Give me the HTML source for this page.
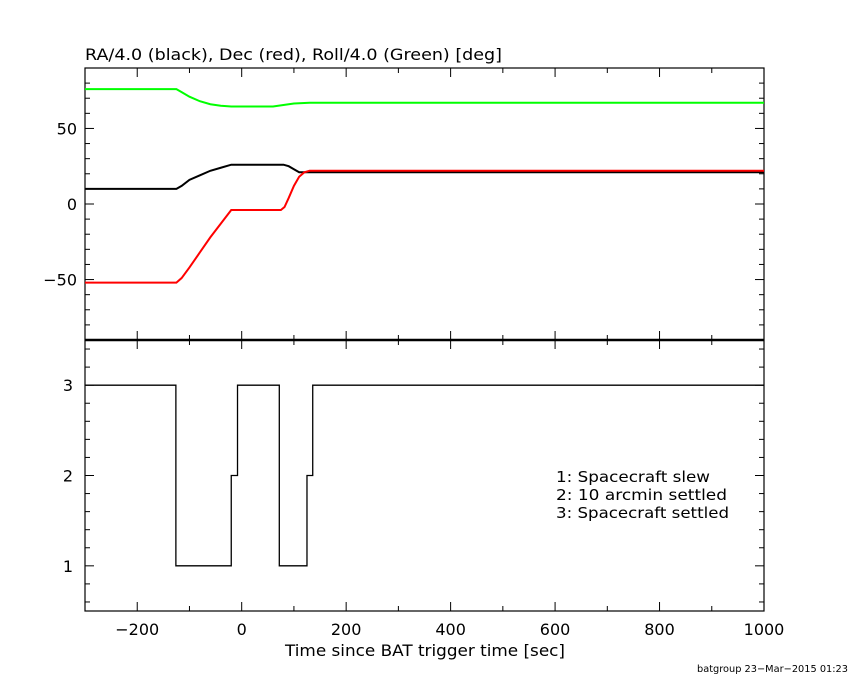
<!DOCTYPE html>
<html><head><meta charset="utf-8"><style>
body{margin:0;background:#fff;}
svg{display:block;font-family:"DejaVu Sans","Liberation Sans",sans-serif;}
</style></head><body>
<svg id="c" width="850" height="680" xmlns="http://www.w3.org/2000/svg"></svg>
<script>
const xTicks=[-200,0,200,400,600,800,1000];
const yTopTicks=[-50,0,50];
const yBotTicks=[1,2,3];
const raT=[-300,-125,-115,-100,-80,-60,-40,-20,80,90,100,110,130,1000];
const raV=[10,10,12,16,19,22,24,26,26,25,23,21,21,21];
const decT=[-300,-125,-115,-100,-80,-60,-40,-20,75,82,90,100,110,120,130,1000];
const decV=[-52,-52,-49,-42,-32,-22,-13,-4,-4,-2,4,12,18,21,22,22];
const rollT=[-300,-125,-115,-100,-80,-60,-40,-20,60,80,100,130,1000];
const rollV=[76,76,74,71,68,66,65,64.5,64.5,65.5,66.5,67,67];
const stateT=[-300,-126,-20,-8,72,125,136,1000];
const stateV=[3,1,2,3,1,2,3,3];
const legendLines=["1: Spacecraft slew","2: 10 arcmin settled","3: Spacecraft settled"];
const legendLens=[154,171,173];

const L=85,R=764,T1=68,B1=340,T2=340,B2=611;
const X=t=>L+(t+300)*(R-L)/1300;
const Y1=v=>T1+(90-v)*(B1-T1)/180;
const Y2=v=>T2+(3.5-v)*(B2-T2)/3;
const svg=document.getElementById('c');
const NS='http://www.w3.org/2000/svg';
function mk(tag,at,name,parent){const e=document.createElementNS(NS,tag);for(const k in at)e.setAttribute(k,at[k]);


(parent||svg).appendChild(e);return e;}
function txt(x,y,s,name,anchor,size,len){const at={x:x,y:y,'font-size':size||15,'text-anchor':anchor||'start',fill:'#000'};if(len){at.textLength=len;at.lengthAdjust='spacingAndGlyphs';}const e=mk('text',at,name);e.textContent=s;return e;}

mk('rect',{x:L,y:T1,width:R-L,height:B2-T1,fill:'none',stroke:'#000','stroke-width':1.2},'plot-frame');
mk('line',{x1:L,x2:R,y1:T2,y2:T2,stroke:'#000','stroke-width':2.5},'panel-divider');
for(let t=-300;t<=1000;t+=100){
 const maj=(t%200===0);const len=maj?9:5;const x=X(t);
 [[T1,1],[B1,-1],[T2,1],[B2,-1]].forEach(([y,d])=>{mk('line',{x1:x,x2:x,y1:y,y2:y+d*len,stroke:'#000'},'x-tick');});
}
xTicks.forEach(t=>txt(X(t),635,(t<0?'\u2212'+(-t):String(t)),'x-tick-label','middle',16));
for(let v=-80;v<=80;v+=10){const maj=(v%50===0);const len=maj?9:5;const y=Y1(v);
 mk('line',{x1:L,x2:L+len,y1:y,y2:y,stroke:'#000'},'y-top-tick');mk('line',{x1:R,x2:R-len,y1:y,y2:y,stroke:'#000'},'y-top-tick');}
yTopTicks.forEach(v=>txt(L-8,Y1(v)+6,(v<0?'\u2212'+(-v):String(v)),'y-top-tick-label','end',16));
for(let i=3;i<=17;i++){const v=i/5;const maj=(i%5===0);const len=maj?9:5;const y=Y2(v);
 mk('line',{x1:L,x2:L+len,y1:y,y2:y,stroke:'#000'},'y-bottom-tick');mk('line',{x1:R,x2:R-len,y1:y,y2:y,stroke:'#000'},'y-bottom-tick');}
yBotTicks.forEach(v=>txt(L-12,Y2(v)+6,String(v),'y-bottom-tick-label','end',16));
function line(ts,vs,col,name){mk('polyline',{points:ts.map((t,i)=>X(t)+','+Y1(vs[i])).join(' '),fill:'none',stroke:col,'stroke-width':2},name);}
line(rollT,rollV,'#00ff00','roll-line');
line(raT,raV,'#000','ra-line');
line(decT,decV,'#ff0000','dec-line');
let p=[];for(let i=0;i<stateT.length-1;i++){p.push(X(stateT[i])+','+Y2(stateV[i]));p.push(X(stateT[i+1])+','+Y2(stateV[i]));}
mk('polyline',{points:p.join(' '),fill:'none',stroke:'#000','stroke-width':1.3},'state-line');
txt(85,60,'RA/4.0 (black), Dec (red), Roll/4.0 (Green) [deg]','top-title','start',16,417);
txt(285,656,'Time since BAT trigger time [sec]','x-axis-title','start',16,280);
legendLines.forEach((s,i)=>txt(556,482+i*18,s,'legend-entry','start',15,legendLens[i]));
txt(697,672,'batgroup 23\u2212Mar\u22122015 01:23','footer-stamp','start',10,151);
</script>
</body></html>
